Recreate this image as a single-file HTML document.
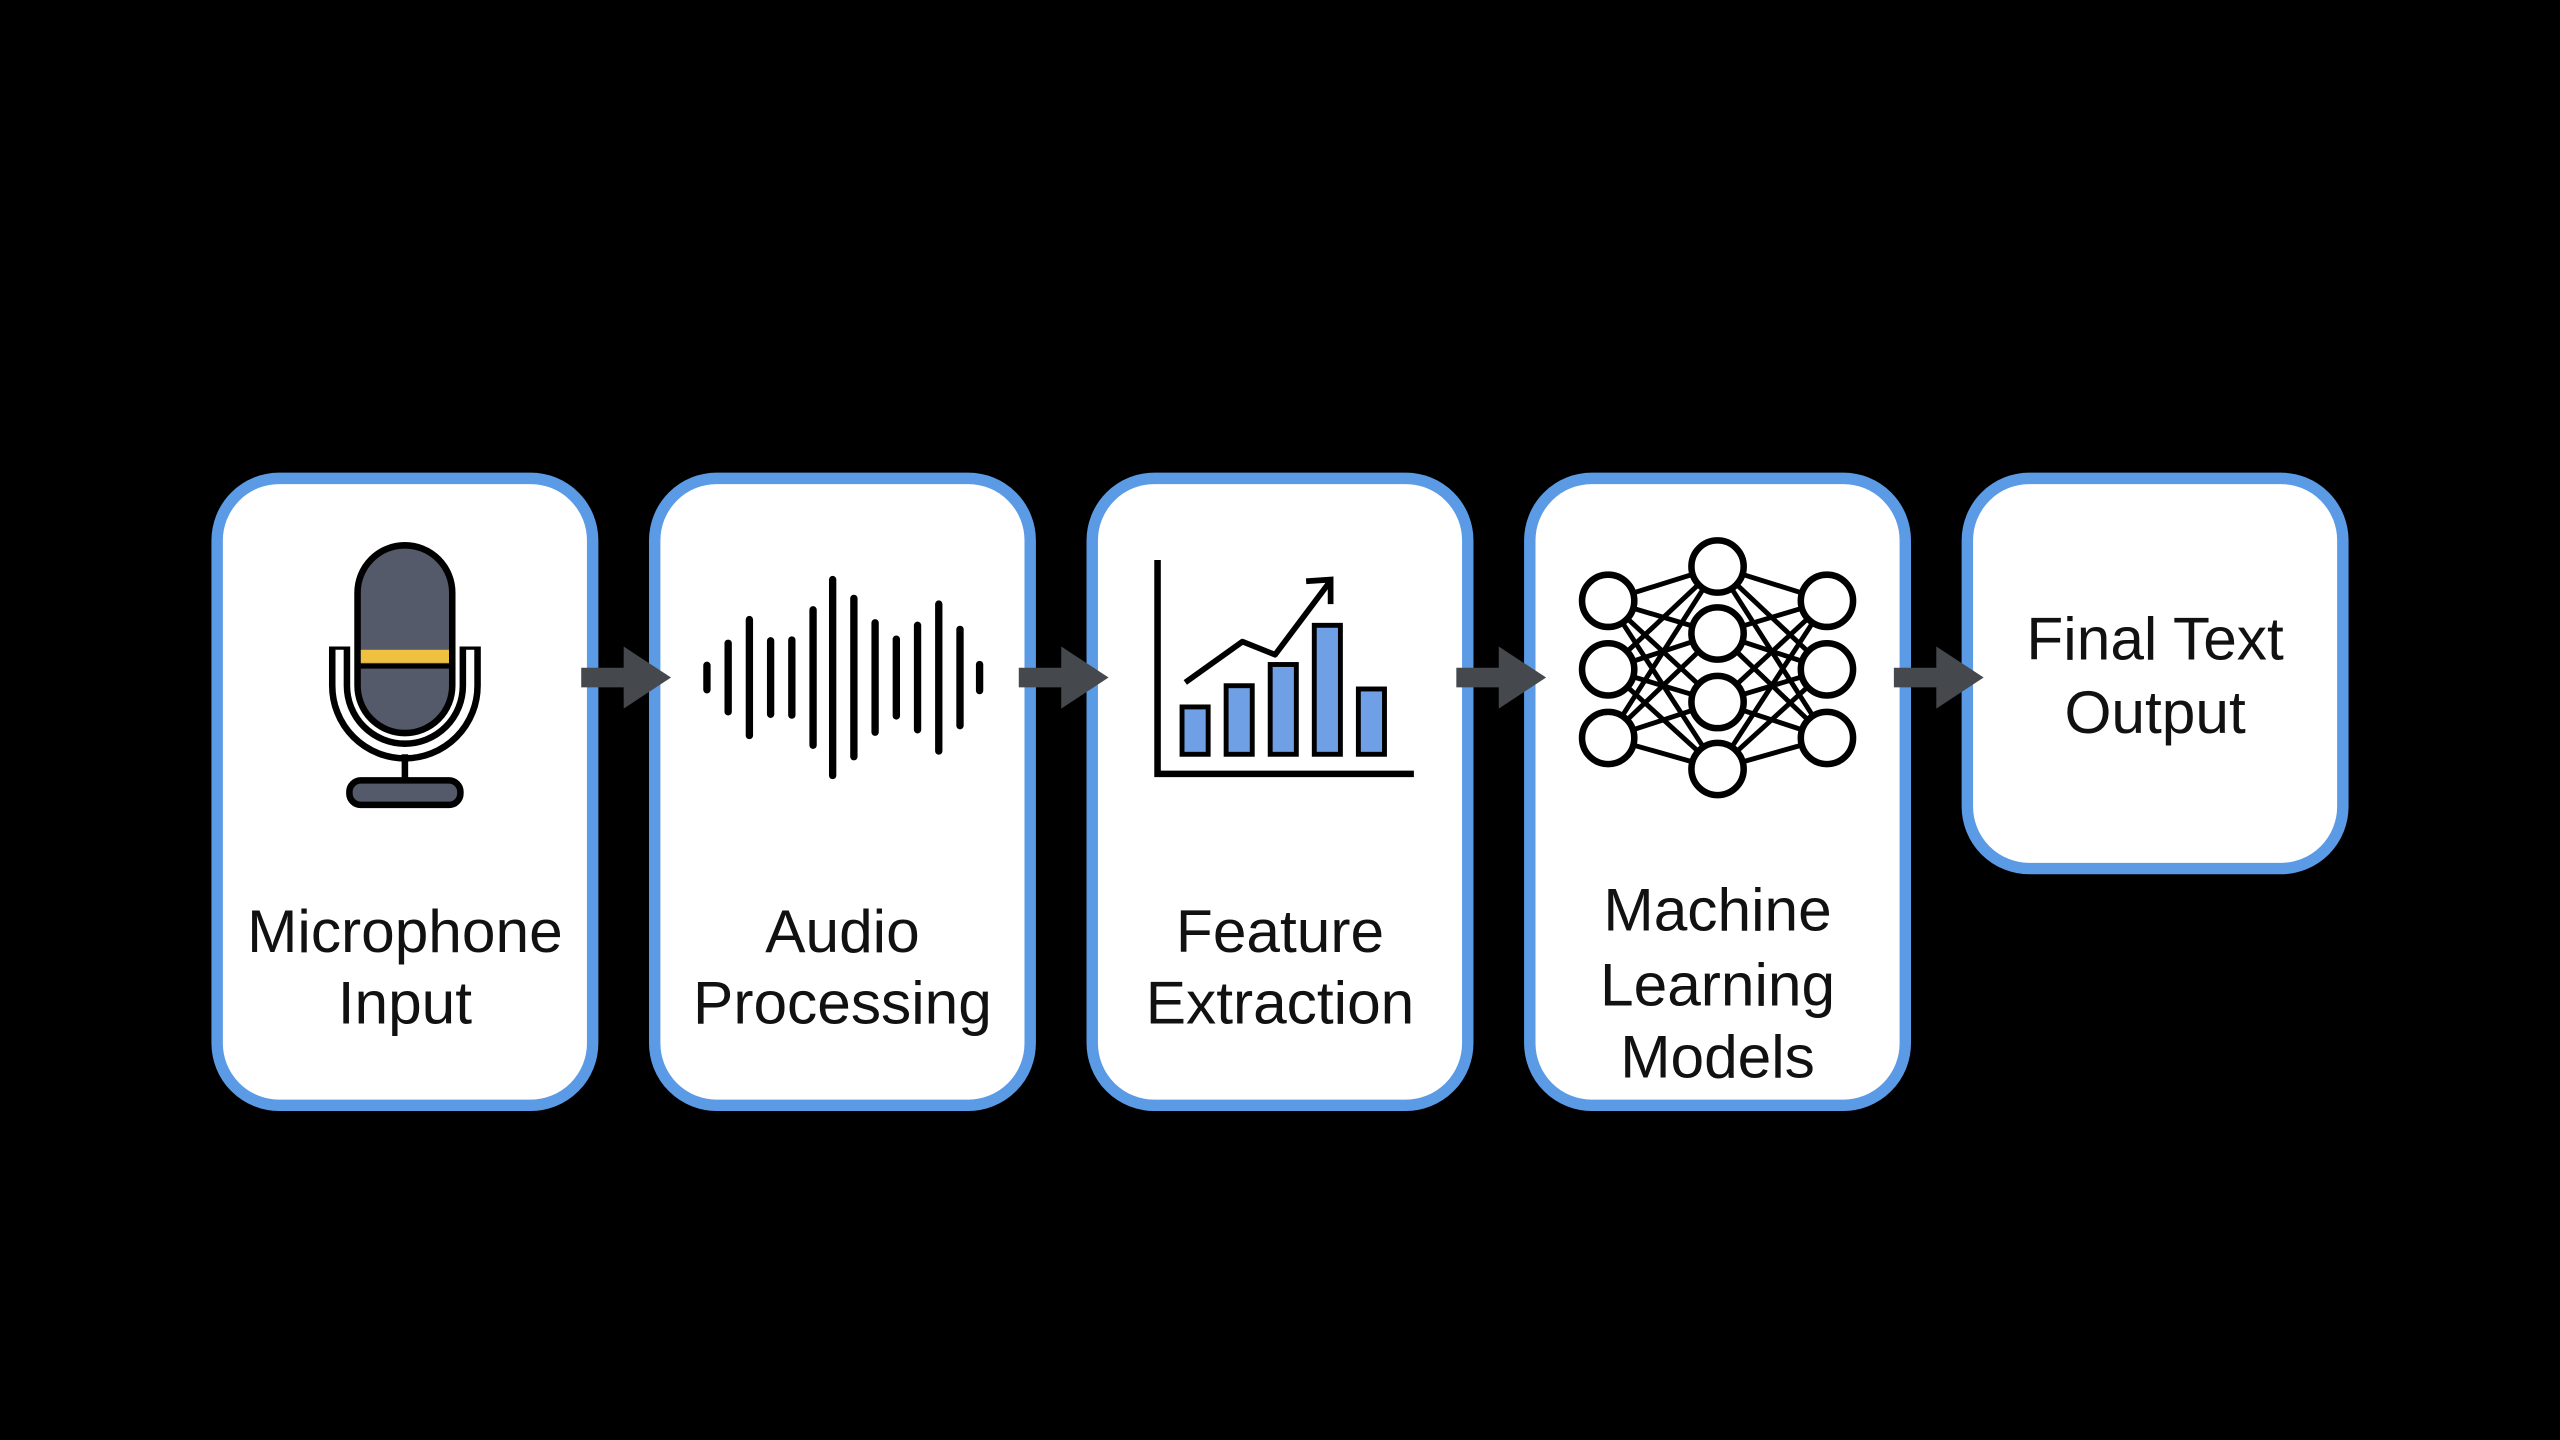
<!DOCTYPE html>
<html><head><meta charset="utf-8"><style>
html,body{margin:0;padding:0;background:#000;width:2560px;height:1440px;overflow:hidden}
svg{display:block}
text{font-family:"Liberation Sans",sans-serif;fill:#111;font-size:37px;text-anchor:middle}
</style></head><body>
<svg width="2560" height="1440" viewBox="0 0 1568 882" xmlns="http://www.w3.org/2000/svg">
<rect width="1568" height="882" fill="#000"/>
<g fill="#fff" stroke="#5b9be6" stroke-width="7">
<rect x="133" y="293" width="230" height="384" rx="38"/>
<rect x="401" y="293" width="230" height="384" rx="38"/>
<rect x="669" y="293" width="230" height="384" rx="38"/>
<rect x="937" y="293" width="230" height="384" rx="38"/>
<rect x="1205" y="293" width="230" height="239" rx="38"/>
</g>
<g fill="#45484c">
<rect x="356" y="409" width="30" height="12"/><polygon points="382,396 411,415 382,434"/>
<rect x="624" y="409" width="30" height="12"/><polygon points="650,396 679,415 650,434"/>
<rect x="892" y="409" width="30" height="12"/><polygon points="918,396 947,415 918,434"/>
<rect x="1160" y="409" width="30" height="12"/><polygon points="1186,396 1215,415 1186,434"/>
</g>
<!-- mic -->
<path d="M208,396 L208,420 A40,40 0 0 0 288,420 L288,396" fill="none" stroke="#000" stroke-width="13"/>
<path d="M208,398 L208,420 A40,40 0 0 0 288,420 L288,398" fill="none" stroke="#fff" stroke-width="5"/>
<rect x="219" y="334" width="58" height="115" rx="29" fill="#555a6a" stroke="#000" stroke-width="4"/>
<rect x="221" y="398" width="54" height="8" fill="#f0c040"/>
<line x1="221" y1="408" x2="275" y2="408" stroke="#000" stroke-width="3"/>
<line x1="248" y1="462" x2="248" y2="480" stroke="#000" stroke-width="4"/>
<rect x="214" y="478" width="68" height="15" rx="7" fill="#555a6a" stroke="#000" stroke-width="4"/>
<!-- waveform -->
<g stroke="#000" stroke-width="4.5" stroke-linecap="round">
<line x1="433" y1="407.5" x2="433" y2="422.5"/>
<line x1="446" y1="394" x2="446" y2="436"/>
<line x1="459" y1="379.5" x2="459" y2="450.5"/>
<line x1="472" y1="392.5" x2="472" y2="437.5"/>
<line x1="485" y1="392" x2="485" y2="438"/>
<line x1="498" y1="373.5" x2="498" y2="456.5"/>
<line x1="510" y1="355" x2="510" y2="475"/>
<line x1="523" y1="366.5" x2="523" y2="463.5"/>
<line x1="536" y1="381.5" x2="536" y2="448.5"/>
<line x1="549" y1="391.5" x2="549" y2="438.5"/>
<line x1="562" y1="383" x2="562" y2="447"/>
<line x1="575" y1="370" x2="575" y2="460"/>
<line x1="588" y1="385.5" x2="588" y2="444.5"/>
<line x1="600" y1="407" x2="600" y2="423"/>
</g>
<!-- chart -->
<g fill="#6fa0e6" stroke="#000" stroke-width="3">
<rect x="724" y="433" width="16" height="29"/>
<rect x="751" y="420" width="16" height="42"/>
<rect x="778" y="407" width="16" height="55"/>
<rect x="805" y="383" width="16" height="79"/>
<rect x="832" y="422" width="16" height="40"/>
</g>
<path d="M709,343 L709,474 L866,474" fill="none" stroke="#000" stroke-width="4"/>
<path d="M726,418 L761,393 L781,401 L814,357" fill="none" stroke="#000" stroke-width="3.5" stroke-linejoin="round"/>
<path d="M800,356 L815,355 L815,370" fill="none" stroke="#000" stroke-width="3.5"/>
<!-- neural net -->
<g stroke="#000" stroke-width="3">
<g id="c">
<line x1="985" y1="368" x2="1052" y2="347"/><line x1="985" y1="368" x2="1052" y2="388"/><line x1="985" y1="368" x2="1052" y2="430"/><line x1="985" y1="368" x2="1052" y2="471"/>
<line x1="985" y1="410" x2="1052" y2="347"/><line x1="985" y1="410" x2="1052" y2="388"/><line x1="985" y1="410" x2="1052" y2="430"/><line x1="985" y1="410" x2="1052" y2="471"/>
<line x1="985" y1="452" x2="1052" y2="347"/><line x1="985" y1="452" x2="1052" y2="388"/><line x1="985" y1="452" x2="1052" y2="430"/><line x1="985" y1="452" x2="1052" y2="471"/>
</g>
<use href="#c" transform="translate(2104,0) scale(-1,1)"/>
</g>
<g fill="#fff" stroke="#000" stroke-width="4">
<circle cx="985" cy="368" r="16"/><circle cx="985" cy="410" r="16"/><circle cx="985" cy="452" r="16"/>
<circle cx="1052" cy="347" r="16"/><circle cx="1052" cy="388" r="16"/><circle cx="1052" cy="430" r="16"/><circle cx="1052" cy="471" r="16"/>
<circle cx="1119" cy="368" r="16"/><circle cx="1119" cy="410" r="16"/><circle cx="1119" cy="452" r="16"/>
</g>
<!-- labels -->
<text x="248" y="583">Microphone</text><text x="248" y="627">Input</text>
<text x="516" y="583">Audio</text><text x="516" y="627">Processing</text>
<text x="784" y="583">Feature</text><text x="784" y="627">Extraction</text>
<text x="1052" y="570">Machine</text><text x="1052" y="616">Learning</text><text x="1052" y="660">Models</text>
<text x="1320" y="404">Final Text</text><text x="1320" y="449">Output</text>
</svg>
</body></html>
